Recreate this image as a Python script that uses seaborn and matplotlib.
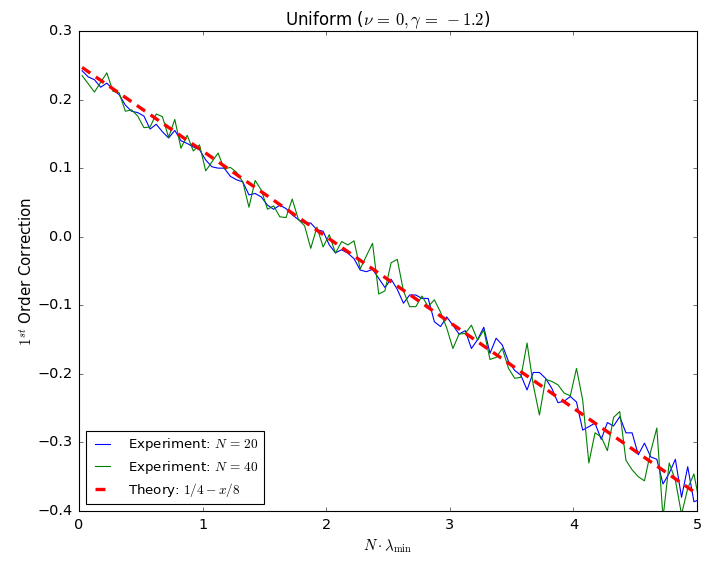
import numpy as np
import pandas as pd
import matplotlib
matplotlib.use("Agg")
import matplotlib.pyplot as plt
import seaborn as sns

plt.style.use("classic")
plt.rcParams["mathtext.fontset"] = "cm"
plt.rcParams["font.family"] = ["DejaVu Sans"]
plt.rcParams["lines.scale_dashes"] = False

# x grid (N * lambda_min)
x_vals = [0.025 + 0.05 * k for k in range(101)]

exp_n20 = [
    0.242, 0.233, 0.229, 0.218, 0.224, 0.215, 0.207, 0.192, 0.183, 0.181,
    0.176, 0.157, 0.164, 0.153, 0.144, 0.155, 0.140, 0.136, 0.131, 0.127,
    0.112, 0.102, 0.100, 0.100, 0.088, 0.083, 0.080, 0.061, 0.063, 0.058,
    0.046, 0.040, 0.046, 0.041, 0.032, 0.025, 0.020, 0.020, 0.010, 0.008,
    -0.012, -0.0235, -0.019, -0.024, -0.032, -0.0486, -0.051, -0.0475, -0.0607, -0.074,
    -0.062, -0.0767, -0.097, -0.085, -0.085, -0.090, -0.090, -0.124, -0.131, -0.117,
    -0.129, -0.142, -0.137, -0.163, -0.150, -0.132, -0.170, -0.148, -0.158, -0.182,
    -0.195, -0.202, -0.2235, -0.198, -0.198, -0.2065, -0.221, -0.242, -0.240, -0.233,
    -0.241, -0.282, -0.277, -0.272, -0.2955, -0.271, -0.276, -0.2625, -0.286, -0.286,
    -0.318, -0.301, -0.321, -0.3246, -0.3606, -0.345, -0.3246, -0.380, -0.3354, -0.3865,
    -0.383,
]

exp_n40 = [
    0.235, 0.223, 0.211, 0.225, 0.239, 0.212, 0.210, 0.183, 0.185, 0.176,
    0.159, 0.160, 0.179, 0.175, 0.145, 0.171, 0.129, 0.148, 0.125, 0.134,
    0.096, 0.109, 0.122, 0.099, 0.101, 0.094, 0.080, 0.043, 0.082, 0.068,
    0.040, 0.045, 0.029, 0.028, 0.055, 0.025, 0.016, -0.017, 0.014, -0.015,
    0.003, -0.024, -0.007, -0.012, -0.006, -0.047, -0.028, -0.0096, -0.0836, -0.079,
    -0.038, -0.033, -0.079, -0.102, -0.102, -0.0865, -0.102, -0.092, -0.110, -0.133,
    -0.163, -0.142, -0.141, -0.129, -0.151, -0.136, -0.179, -0.176, -0.163, -0.192,
    -0.2065, -0.205, -0.155, -0.216, -0.260, -0.208, -0.211, -0.216, -0.228, -0.232,
    -0.192, -0.238, -0.330, -0.286, -0.292, -0.312, -0.2635, -0.255, -0.326, -0.340,
    -0.350, -0.356, -0.3135, -0.279, -0.410, -0.330, -0.355, -0.405, -0.367, -0.346,
    -0.392,
]

theory_x = [0.025, 5.025]
theory_y = [0.25 - t / 8.0 for t in theory_x]

df20 = pd.DataFrame({"x": x_vals, "y": exp_n20})
df40 = pd.DataFrame({"x": x_vals, "y": exp_n40})
dft = pd.DataFrame({"x": theory_x, "y": theory_y})

fig = plt.figure(figsize=(704 / 80, 561 / 80), dpi=80)
ax = fig.add_axes([79 / 704, 1 - 511 / 561, (697 - 79) / 704, (511 - 31) / 561])

sns.lineplot(data=df20, x="x", y="y", ax=ax, color="b", lw=1, estimator=None,
             sort=False, label=r"Experiment: $N\,=\,20$")
sns.lineplot(data=df40, x="x", y="y", ax=ax, color="g", lw=1, estimator=None,
             sort=False, label=r"Experiment: $N\,=\,40$")
sns.lineplot(data=dft, x="x", y="y", ax=ax, color="r", lw=3, estimator=None,
             sort=False, dashes=False, label=r"Theory: $1/4-x/8$")
ax.lines[-1].set_dashes([9, 6])

ax.set_xlim(0, 5)
ax.set_ylim(-0.4, 0.3)
ax.set_xticks([0, 1, 2, 3, 4, 5])
ax.set_yticks([-0.4, -0.3, -0.2, -0.1, 0.0, 0.1, 0.2, 0.3])
ax.set_yticklabels(["\u22120.4", "\u22120.3", "\u22120.2", "\u22120.1", "0.0", "0.1", "0.2", "0.3"])
ax.set_title(r"Uniform ($\nu\,=\,0,\gamma\,=\,-1.2$)", fontsize=15)
ax.set_xlabel(r"$N\cdot\lambda_{\min}$", fontsize=13.5, labelpad=5)
ax.set_ylabel(r"$1^{st}$ Order Correction", fontsize=13.5, labelpad=2)
ax.tick_params(labelsize=13, pad=6)

leg = ax.legend(loc="lower left", fontsize=12, fancybox=False, frameon=True,
                handlelength=1.7, handletextpad=1.1, borderpad=0.4, labelspacing=0.4)
leg.get_frame().set_edgecolor("black")

fig.savefig("out.png", dpi=80)
